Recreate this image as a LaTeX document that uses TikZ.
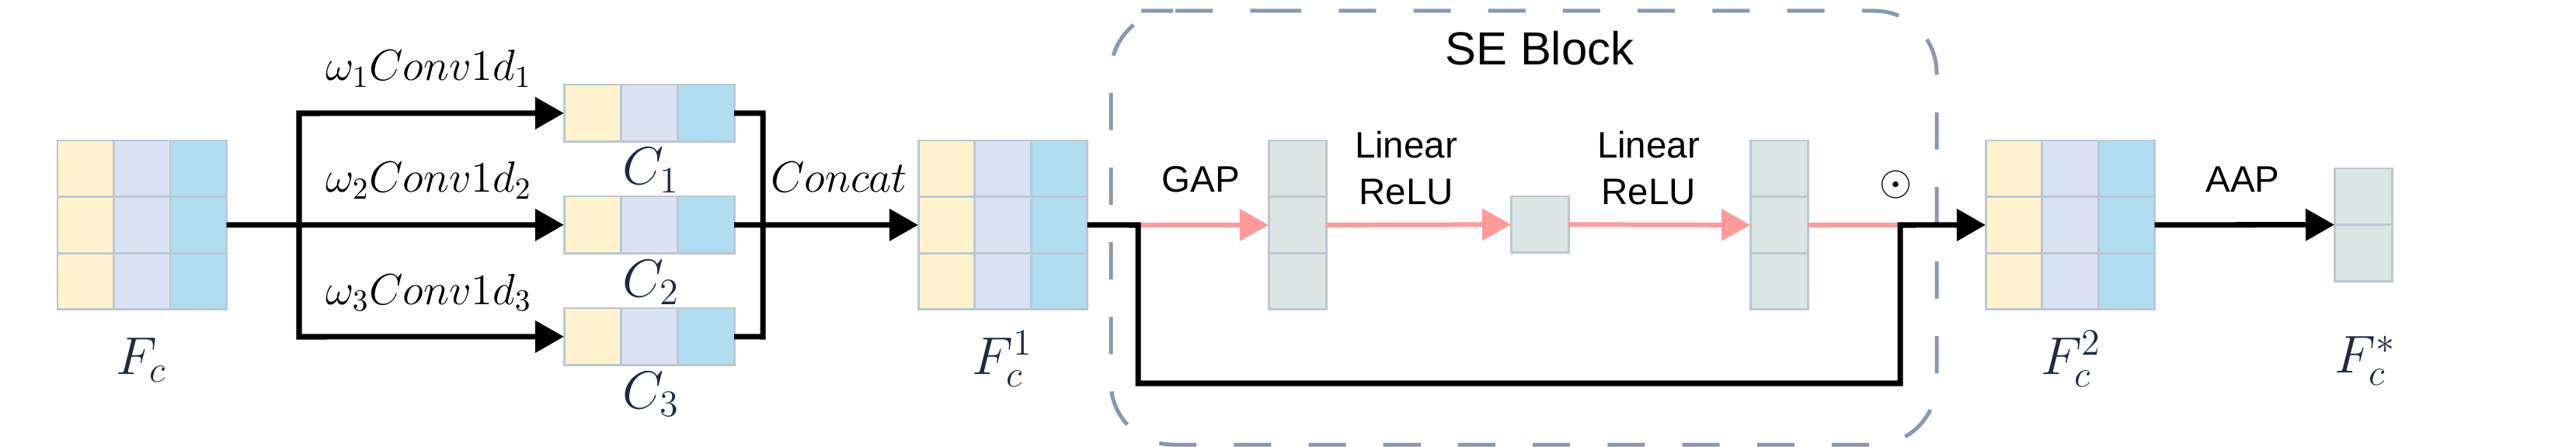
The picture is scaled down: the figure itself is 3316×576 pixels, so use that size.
\RequirePackage{fix-cm}
\documentclass[tikz,border=0pt]{standalone}
\usepackage{fontspec}
\newfontfamily\lsans{Liberation Sans}
\usetikzlibrary{arrows.meta}
\definecolor{cY}{HTML}{FFF2CC}
\definecolor{cL}{HTML}{DAE3F3}
\definecolor{cB}{HTML}{B1DDF0}
\definecolor{cG}{HTML}{DAE6E3}
\definecolor{cBd}{HTML}{BAC8D3}
\definecolor{cDash}{HTML}{8798B0}
\definecolor{cPink}{HTML}{FF9A9A}
\definecolor{cMath}{HTML}{1B2B40}
\tikzset{
  cell/.style={draw=cBd, line width=0.85pt},
  blk/.style={draw=black, line width=2pt},
  blkarrow/.style={blk, -{Triangle[length=0.37cm,width=0.4cm]}},
  pk/.style={draw=cPink, line width=1.7pt},
  pkarrow/.style={pk, -{Triangle[length=0.37cm,width=0.4cm]}},
  slab/.style={font=\lsans\fontsize{13.5}{16}\selectfont, inner sep=0, anchor=base},
  mlab/.style={font=\fontsize{19.5}{23}\selectfont, text=cMath, inner sep=0, anchor=base},
  wlab/.style={font=\fontsize{16}{19}\selectfont, inner sep=0, anchor=base},
  hold/.style={inner sep=0, outer sep=0, draw=none}
}
% 3x3 feature block: name, x0, y0 (top-left)
\newcommand{\featblock}[3]{%
  \foreach \ci/\col in {0/cY,1/cL,2/cB}{%
    \foreach \ri in {0,1,2}{%
      \filldraw[cell, fill=\col] ({#2+\ci*72.5},{#3+\ri*72.6}) rectangle ++(72.5,72.6);}}
  \node[hold, minimum width=2.175cm, minimum height=2.178cm] (#1) at ({#2+108.75},{#3+108.9}) {};
}
% 1x3 row block: name, x0, y0
\newcommand{\rowblock}[3]{%
  \foreach \ci/\col in {0/cY,1/cL,2/cB}{%
    \filldraw[cell, fill=\col] ({#2+\ci*73},{#3}) rectangle ++(73,73.6);}
  \node[hold, minimum width=2.19cm, minimum height=0.736cm] (#1) at ({#2+109.5},{#3+36.8}) {};
}
% n x 1 column block: name, x0, y0, n
\newcommand{\colblock}[4]{%
  \foreach \ri in {1,...,#4}{%
    \filldraw[cell, fill=cG] ({#2},{#3+(\ri-1)*72.6}) rectangle ++(74,72.6);}
  \node[hold, minimum width=0.74cm, minimum height={#4*0.726cm}] (#1) at ({#2+37},{#3+#4*36.3}) {};
}
\begin{document}
\begin{tikzpicture}[x=0.01cm, y=-0.01cm]
\useasboundingbox (0,0) rectangle (3316,576);

% SE block frame
\draw[cDash, line width=1.42pt, dash pattern=on 13.66pt off 13.7pt, rounded corners=0.8cm]
  (1547,14) -- (2493,14) -- (2493,573) -- (1430,573) -- (1430,14) -- cycle;
\node[font=\lsans\fontsize{17}{20}\selectfont, inner sep=0, anchor=base] (tSE) at (1982,84) {SE Block};

% blocks
\featblock{Fc}{74}{181}
\rowblock{C1}{726}{109}
\rowblock{C2}{726}{253}
\rowblock{C3}{726}{397}
\featblock{Fc1}{1182}{181}
\colblock{A}{1633}{181}{3}
\colblock{B}{1945}{253}{1}
\colblock{Cb}{2253}{181}{3}
\featblock{Fc2}{2556}{181}
\colblock{Fs}{3005}{217}{2}

% coordinates
\coordinate (b1) at (385,146);
\coordinate (b3) at (385,434);
\coordinate (j1) at (982,146);
\coordinate (j3) at (982,434);
\coordinate (s1) at (1465,290);
\coordinate (s2) at (1465,494);
\coordinate (s3) at (2446,494);
\coordinate (s4) at (2446,290);

% branches
\draw[blkarrow] (Fc.east) -- (C2.west);
\draw[blk, {Triangle[length=0.37cm,width=0.4cm]}-{Triangle[length=0.37cm,width=0.4cm]}]
  (C1.west) -- (b1) -- (b3) -- (C3.west);
\draw[blk] (C1.east) -- (j1) -- (j3) -- (C3.east);
\draw[blkarrow] (C2.east) -- (Fc1.west);

% SE path
\draw[pkarrow] (s1) -- (A.west);
\draw[pkarrow] (A.east) -- (B.west);
\draw[pkarrow] (B.east) -- (Cb.west);
\draw[pk] (Cb.east) -- (s4);
\draw[blkarrow] (Fc1.east) -- (s1) -- (s2) -- (s3) -- (s4) -- (Fc2.west);
\draw[blkarrow] (Fc2.east) -- (Fs.west);

% labels
\node[wlab] (w1) at (552,104) {$\omega_1 Conv1d_1$};
\node[wlab] (w2) at (552,248) {$\omega_2 Conv1d_2$};
\node[wlab] (w3) at (552,392) {$\omega_3 Conv1d_3$};
\node[mlab] (lC1) at (838,238) {$C_1$};
\node[mlab] (lC2) at (838,382) {$C_2$};
\node[mlab] (lC3) at (838,526) {$C_3$};
\node[wlab] (cc) at (1080,247) {$Concat$};
\node[mlab] (lFc) at (182,482) {$F_c$};
\node[mlab] (lFc1) at (1291,482) {$F_c^1$};
\node[mlab] (lFc2) at (2666,482) {$F_c^2$};
\node[mlab] (lFs) at (3045,480) {$F_c^*$};
\node[slab] (gap) at (1546,248) {GAP};
\node[slab] (lin1) at (1810,204) {Linear};
\node[slab] (rel1) at (1810,263) {ReLU};
\node[slab] (lin2) at (2122,204) {Linear};
\node[slab] (rel2) at (2122,263) {ReLU};
\node[slab] (aap) at (2887,248) {AAP};
\node[font=\fontsize{15.4}{18}\selectfont, inner sep=0] (od) at (2441,238) {$\odot$};
\end{tikzpicture}
\end{document}
